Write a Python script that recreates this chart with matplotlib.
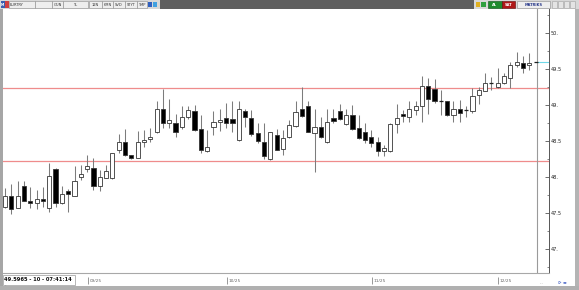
import matplotlib
matplotlib.use("Agg")
import matplotlib.pyplot as plt
from matplotlib.patches import Rectangle
from matplotlib.ticker import FixedLocator, MultipleLocator

# ---------------- data ----------------
opens = [47.59, 47.74, 47.57, 47.88, 47.67, 47.64, 47.70, 47.57, 48.11, 47.64,
         47.81, 47.74, 48.00, 48.11, 48.13, 47.88, 47.99, 47.98, 48.37, 48.48,
         48.31, 48.27, 48.48, 48.53, 48.62, 48.95, 48.75, 48.75, 48.69, 48.83,
         48.91, 48.66, 48.36, 48.70, 48.76, 48.82, 48.81, 48.51, 48.92, 48.82,
         48.61, 48.49, 48.25, 48.58, 48.39, 48.55, 48.71, 48.95, 48.98, 48.61,
         48.69, 48.48, 48.82, 48.91, 48.73, 48.86, 48.68, 48.62, 48.55, 48.48,
         48.36, 48.36, 48.73, 48.88, 48.84, 48.93, 48.99, 49.26, 49.22, 49.06,
         49.06, 48.86, 48.94, 48.93, 48.91, 49.14, 49.20, 49.31, 49.25, 49.30,
         49.37, 49.56, 49.59, 49.56, 49.5965]
highs = [47.85, 47.90, 47.95, 47.95, 47.86, 47.82, 47.86, 48.19, 48.12, 47.87,
         47.84, 48.15, 48.17, 48.31, 48.26, 48.10, 48.17, 48.33, 48.60, 48.66,
         48.31, 48.64, 48.65, 48.68, 49.06, 49.22, 49.09, 48.88, 48.98, 48.99,
         49.00, 48.86, 48.65, 48.92, 48.94, 49.03, 49.05, 49.06, 48.94, 48.93,
         48.75, 48.75, 48.63, 48.66, 48.65, 48.79, 49.06, 49.25, 49.05, 48.94,
         48.83, 48.95, 48.95, 49.01, 48.95, 49.00, 48.86, 48.75, 48.65, 48.56,
         48.44, 48.75, 49.02, 48.93, 49.06, 49.06, 49.40, 49.37, 49.36, 49.21,
         49.06, 49.06, 49.07, 48.98, 49.23, 49.25, 49.44, 49.39, 49.52, 49.44,
         49.60, 49.74, 49.68, 49.72, 49.5965]
lows = [47.57, 47.49, 47.57, 47.66, 47.57, 47.55, 47.59, 47.52, 47.59, 47.62,
        47.52, 47.74, 47.96, 48.07, 47.82, 47.81, 47.98, 47.97, 48.33, 48.29,
        48.25, 48.26, 48.42, 48.49, 48.61, 48.68, 48.68, 48.56, 48.66, 48.80,
        48.64, 48.34, 48.35, 48.58, 48.64, 48.68, 48.63, 48.50, 48.70, 48.57,
        48.47, 48.25, 48.24, 48.37, 48.31, 48.54, 48.70, 48.84, 48.62, 48.07,
        48.54, 48.47, 48.75, 48.79, 48.72, 48.65, 48.53, 48.47, 48.42, 48.29,
        48.29, 48.35, 48.61, 48.76, 48.77, 48.86, 48.77, 48.88, 49.03, 48.86,
        48.85, 48.77, 48.77, 48.83, 48.89, 49.02, 49.19, 49.21, 49.23, 49.29,
        49.23, 49.53, 49.44, 49.48, 49.5965]
closes = [47.73, 47.55, 47.74, 47.67, 47.64, 47.70, 47.66, 48.01, 47.64, 47.77,
          47.77, 47.95, 48.04, 48.15, 47.88, 48.00, 48.08, 48.33, 48.48, 48.31,
          48.26, 48.48, 48.51, 48.56, 48.95, 48.75, 48.79, 48.62, 48.83, 48.93,
          48.65, 48.38, 48.41, 48.76, 48.79, 48.75, 48.75, 48.94, 48.83, 48.60,
          48.50, 48.29, 48.62, 48.38, 48.54, 48.72, 48.90, 48.85, 48.63, 48.69,
          48.55, 48.77, 48.78, 48.80, 48.86, 48.66, 48.54, 48.51, 48.47, 48.36,
          48.40, 48.73, 48.82, 48.85, 48.94, 48.99, 49.26, 49.08, 49.06, 49.05,
          48.86, 48.95, 48.89, 48.92, 49.13, 49.21, 49.30, 49.30, 49.31, 49.40,
          49.56, 49.60, 49.52, 49.59, 49.5965]

levels = [49.236, 48.222]          # horizontal red lines
last_price = 49.5965
y_ticks = [47.0, 47.5, 48.0, 48.5, 49.0, 49.5, 50.0]
y_tick_labels = ["47.", "47.5", "48.", "48.5", "49.", "49.5", "50."]
date_idx = [13, 35, 58, 78]
date_labels = ["09/25", "10/25", "11/25", "12/25"]
status_text = "49.5965 - 10 - 07:41:14"
left_buttons = ["EURTRY", "", "GUN", "TL", "12N", "KMN", "SVD", "STYT", "TMP"]

# ---------------- figure ----------------
W, H = 579, 290
fig = plt.figure(figsize=(W / 100, H / 100), dpi=100, facecolor="white")


def box(x0, y0, x1, y1, fc, ec="none", lw=0.5, z=1):
    fig.patches.append(Rectangle((x0 / W, 1 - y1 / H), (x1 - x0) / W, (y1 - y0) / H,
                                 transform=fig.transFigure, fc=fc, ec=ec, lw=lw,
                                 zorder=z))


def ftext(x, y, s, **kw):
    fig.text(x / W, 1 - y / H, s, **kw)


# main axes: px x 3..549, y 9..273
ax = fig.add_axes([3 / W, 1 - 273 / H, (549 - 3) / W, (273 - 9) / H])
ax.set_facecolor("white")
ax.set_xlim(-0.32, 86.12)
ax.set_ylim(46.667, 50.333)

for lv in levels:
    ax.axhline(lv, color="#ef8c8c", lw=0.9, zorder=1)

bw = 0.66
for i, (o, h, l, c) in enumerate(zip(opens, highs, lows, closes)):
    if h > l:
        ax.vlines(i, l, h, color="#7c7c7c", lw=0.75, zorder=2)
    up = c >= o
    lo, hi = min(o, c), max(o, c)
    if hi - lo < 0.012:
        ax.hlines((o + c) / 2, i - bw / 2, i + bw / 2, color="#202020", lw=0.9, zorder=3)
    else:
        ax.add_patch(Rectangle((i - bw / 2, lo), bw, hi - lo,
                               fc="white" if up else "black",
                               ec="#353535", lw=0.6, zorder=3))

vx = 84.17
ax.axvline(vx, color="#9a9a9a", lw=0.8, zorder=1)
ax.hlines(last_price, vx, 86.12, color="#6fd8e8", lw=0.8, zorder=2)

for s in ["top", "left"]:
    ax.spines[s].set_visible(False)
ax.spines["bottom"].set_color("#a8a8a8")
ax.spines["bottom"].set_linewidth(0.8)
ax.spines["right"].set_color("#555555")
ax.spines["right"].set_linewidth(0.7)

ax.set_xticks([])
ax.yaxis.tick_right()
ax.yaxis.set_major_locator(FixedLocator(y_ticks))
ax.set_yticklabels(y_tick_labels)
ax.yaxis.set_minor_locator(MultipleLocator(0.25))
ax.tick_params(axis="y", which="major", direction="in", length=2.6, width=0.6,
               color="#555555", pad=1.2, labelsize=3.6, labelcolor="#222222")
ax.tick_params(axis="y", which="minor", direction="in", length=1.4, width=0.5,
               color="#555555")

# date strip axes
ax2 = fig.add_axes([3 / W, 1 - 285 / H, (549 - 3) / W, (285 - 275) / H], sharex=ax)
ax2.set_ylim(0, 1)
ax2.axis("off")
for d, lab in zip(date_idx, date_labels):
    ax2.vlines(d + 0.1, 0.1, 0.85, color="#888888", lw=0.6)
    ax2.text(d + 0.35, 0.45, lab, ha="left", va="center", fontsize=3.1, color="#666666")

# ---------------- chrome ----------------
# toolbar
box(0, 0, W, 9, "#d8d8d8", z=0)
box(160, 0, 474, 9, "#5f5f5f", z=1)
box(1, 1, 4.5, 8, "#3a5fb0", z=2)
ftext(2.7, 4.6, "M", fontsize=2.4, color="white", ha="center", va="center", weight="bold")
box(5, 1, 8.5, 8, "#d04040", z=2)
bx = [(8.5, 35), (35, 52), (52, 63), (63, 88), (89, 102), (102, 113), (113, 125),
      (125, 137), (137, 147)]
for (a, b), lab in zip(bx, left_buttons):
    box(a, 1.2, b, 7.8, "#eeeeee", ec="#8c8c8c", lw=0.4, z=2)
    if lab:
        xx = 10 if lab == "EURTRY" else (a + b) / 2
        ftext(xx, 4.6, lab, fontsize=2.6, color="#333333",
              ha="left" if lab == "EURTRY" else "center", va="center")
box(148, 2, 152, 7, "#3060c0", z=2)
box(153, 2, 157, 7, "#40a0e0", z=2)
box(476, 2, 480, 7, "#e0b020", z=2)
box(481, 2, 486, 7, "#30a040", z=2)
box(488, 1.2, 502, 7.8, "#1f8a2e", ec="#0e5018", lw=0.4, z=2)
ftext(495, 4.6, "AL", fontsize=2.6, color="white", ha="center", va="center", weight="bold")
box(502, 1.2, 515, 7.8, "#b01818", ec="#600a0a", lw=0.4, z=2)
ftext(508.5, 4.6, "SAT", fontsize=2.6, color="white", ha="center", va="center", weight="bold")
box(517, 1.2, 550, 7.8, "#eeeeee", ec="#8c8c8c", lw=0.4, z=2)
ftext(533.5, 4.6, "MATRIKS", fontsize=2.6, color="#2a3a8a", ha="center", va="center",
      weight="bold")
for a in (552, 558, 564, 570):
    box(a, 1.5, a + 5, 7.5, "#e4e4e4", ec="#a0a0a0", lw=0.4, z=2)

# borders
box(0, 9, 2.6, H, "#a6a6a6", z=3)
box(574.5, 9, W, H, "#b4b4b4", z=3)
box(0, 286, W, H, "#b0b0b0", z=3)

# status box
box(2.6, 275, 75, 284.5, "white", ec="#9a9a9a", lw=0.5, z=2)
ftext(4.5, 279.7, status_text, fontsize=3.7, weight="bold", color="#111111",
      ha="left", va="center")
ftext(5, 285, "..", fontsize=3, color="#666666", ha="left", va="center")
ftext(541, 283.5, "...", fontsize=3, color="#777777", ha="center", va="center")
ftext(563, 282.5, "\u27f3 \u25c2\u25b8", fontsize=3, color="#3050c0", ha="center",
      va="center")

fig.savefig("out.png", dpi=100, facecolor="white")
